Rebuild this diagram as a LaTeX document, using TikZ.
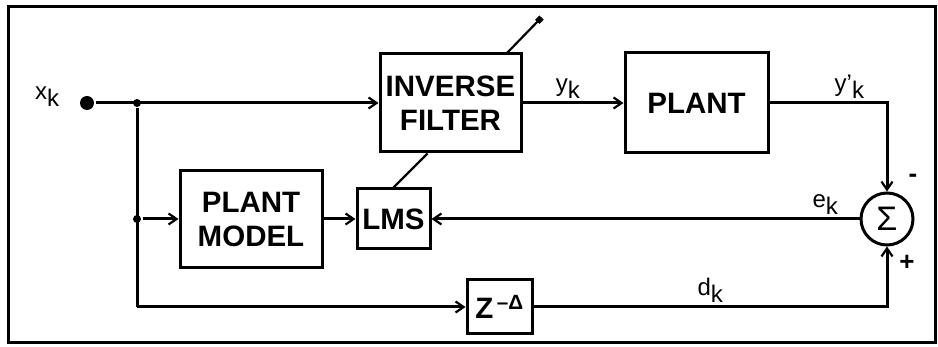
\documentclass[tikz,border=0pt]{standalone}
\usepackage{fontspec}
\setmainfont{Liberation Sans}
\usetikzlibrary{positioning,arrows.meta,calc}
\newcommand{\subk}{\raisebox{-0.3em}{k}}

\begin{document}
\begin{tikzpicture}[x=1pt, y=-1pt, line width=3pt, font=\fontsize{29.5}{34}\selectfont\bfseries,
  blk/.style={draw, align=center, inner sep=0pt},
  lbl/.style={font=\fontsize{24}{26}\selectfont, inner sep=3pt},
  jdot/.style={circle, fill, inner sep=0pt, minimum size=8pt},
  >={Straight Barb[length=8pt,width=11pt,line width=2.2pt]}]
\useasboundingbox (0,0) rectangle (938,347);
\draw (8,7) rectangle (935,343);
% blocks
\node[blk, minimum width=141pt, minimum height=98pt] (inv) at (450.5,103) {INVERSE\\FILTER};
\node[blk, minimum width=143pt, minimum height=100pt] (plant) at (696.5,103) {PLANT};
\node[blk, minimum width=142pt, minimum height=97pt] (model) at (251,219) {PLANT\\MODEL};
\node[blk, minimum width=73pt, minimum height=60pt] (lms) at (393.5,219) {LMS};
\node[blk, minimum width=65pt, minimum height=54pt] (zdel) at (499.5,307) {Z\textsuperscript{\,–Δ}};
\node[draw, circle, minimum size=52pt, inner sep=0pt, font=\fontsize{34}{36}\selectfont] (sum) at (887,219) {Σ};
% input and branch points
\node[circle, fill, inner sep=0pt, minimum size=14pt] (xin) at (87,103) {};
\node[lbl] (xk) at (47,97) {x\subk};
\node[jdot] (br1) at (137,103) {};
\node[jdot] (br2) at (137,219) {};
\coordinate (br3) at (137,307);
% signals
\draw[->] (xin) -- (inv.west);
\draw (br1) -- (br3);
\draw[->] (br2) -- (model.west);
\draw[->] (br3) -- (zdel.west);
\draw[->] (model.east) -- (lms.west);
\draw[->] (inv.east) -- node[lbl, pos=0.45, above] (yk) {y\subk} (plant.west);
\draw[->] (plant.east) -| node[lbl, pos=0.34, above] (ypk) {y'\subk} (sum.north);
\draw[->] (zdel.east) -| node[lbl, pos=0.25, above] (dk) {d\subk} (sum.south);
\draw[->] (sum.west) -- node[lbl, pos=0.08, above] (ek) {e\subk} (lms.east);
% adaptation
\draw[line width=2.2pt] (lms.north) -- ($(inv.south)+(-23,0)$);
\draw[line width=2.2pt, -{Square[length=6pt,width=6pt]}] ($(inv.north east)+(-15,0)$) -- ++(34,-35);
% signs
\node[lbl, font=\fontsize{26}{28}\selectfont\bfseries] (minus) at (913,178) {-};
\node[lbl, font=\fontsize{26}{28}\selectfont\bfseries] (plus) at (907,263) {+};
\end{tikzpicture}
\end{document}
